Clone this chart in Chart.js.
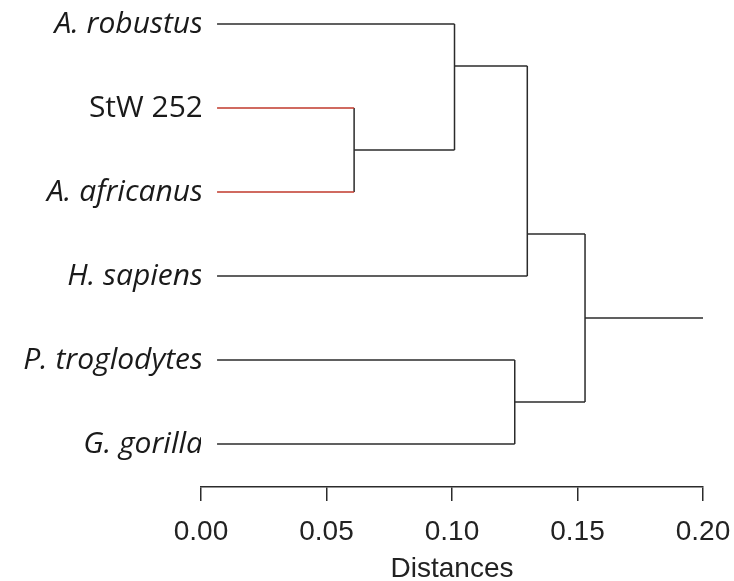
<!DOCTYPE html>
<html>
<head>
<meta charset="utf-8">
<script src="https://cdn.jsdelivr.net/npm/chart.js@4.4.1/dist/chart.umd.min.js"></script>
<style>
  html, body { margin: 0; padding: 0; background: #fff; }
  #wrap { width: 734px; height: 581px; }
</style>
</head>
<body>
<div id="wrap"><canvas id="tree"></canvas></div>
<script>
// leaves, top to bottom
const leaves = ['A. robustus', 'StW 252', 'A. africanus', 'H. sapiens', 'P. troglodytes', 'G. gorilla'];
const leafItalic = [true, false, true, true, true, true];
const leafColors = ['#2b2b2b', '#c0392b', '#c0392b', '#2b2b2b', '#2b2b2b', '#2b2b2b'];
const leafStart = 0.0064;

// merges: negative = leaf (1-based), positive = earlier merge (1-based)
const mergeA = [-2, -1, 2, -5, 3];
const mergeB = [-3, 1, -4, -6, 4];
const mergeHeight = [0.061, 0.101, 0.130, 0.125, 0.153];
const mergeY = [1.5, 0.5, 2.5, 4.5, 3.5];
const rootEnd = 0.20;

const xTicks = [0, 0.05, 0.10, 0.15, 0.20];

const lineColor = '#2b2b2b';

function node(ref) {
    if (ref < 0) {
        const i = -ref - 1;
        return { h: leafStart, y: i, color: leafColors[i] };
    }
    return { h: mergeHeight[ref - 1], y: mergeY[ref - 1], color: lineColor };
}

function seg(points, color) {
    return {
        data: points,
        showLine: true,
        borderColor: color,
        borderWidth: 1.5,
        pointRadius: 0,
        fill: false
    };
}

// build the segments of the tree
const datasets = [];
for (let k = 0; k < mergeHeight.length; k++) {
    const h = mergeHeight[k];
    const a = node(mergeA[k]);
    const b = node(mergeB[k]);
    datasets.push(seg([{ x: a.h, y: a.y }, { x: h, y: a.y }], a.color));
    datasets.push(seg([{ x: b.h, y: b.y }, { x: h, y: b.y }], b.color));
    datasets.push(seg([{ x: h, y: a.y }, { x: h, y: b.y }], lineColor));
}
const last = mergeHeight.length - 1;
datasets.push(seg([{ x: mergeHeight[last], y: mergeY[last] }, { x: rootEnd, y: mergeY[last] }], lineColor));

const ctx = document.getElementById('tree').getContext('2d');
new Chart(ctx, {
    type: 'scatter',
    data: { datasets: datasets },
    options: {
        responsive: true,
        maintainAspectRatio: false,
        animation: false,
        layout: { padding: { top: 3, right: 31, left: 0, bottom: 0 } },
        plugins: {
            legend: { display: false },
            tooltip: { enabled: false }
        },
        scales: {
            x: {
                type: 'linear',
                min: 0,
                max: 0.20,
                afterBuildTicks: (scale) => { scale.ticks = xTicks.map(v => ({ value: v })); },
                afterFit: (scale) => {
                    scale.height = 94;
                    scale.paddingLeft = 0;
                    scale.paddingRight = 0;
                },
                border: { display: true, color: lineColor, width: 1.5 },
                grid: {
                    drawOnChartArea: false,
                    drawTicks: true,
                    tickLength: 14,
                    color: lineColor,
                    lineWidth: 1.5
                },
                ticks: {
                    padding: 14,
                    maxRotation: 0,
                    color: '#222',
                    font: { family: '"Liberation Sans", Arial, sans-serif', size: 28 },
                    callback: (v) => v.toFixed(2)
                },
                title: {
                    display: true,
                    text: 'Distances',
                    color: '#222',
                    padding: { top: 7, bottom: -5 },
                    font: { family: '"Liberation Sans", Arial, sans-serif', size: 28 }
                }
            },
            y: {
                type: 'linear',
                reverse: true,
                min: -0.25,
                max: 5.512,
                afterBuildTicks: (scale) => { scale.ticks = leaves.map((_, i) => ({ value: i })); },
                afterFit: (scale) => {
                    scale.width = 201;
                    scale.paddingTop = 0;
                    scale.paddingBottom = 0;
                },
                border: { display: false },
                grid: { display: false, drawTicks: false },
                ticks: {
                    padding: -2,
                    color: '#1a1a1a',
                    font: (c) => ({
                        family: '"Open Sans", "Noto Sans", sans-serif',
                        size: 30,
                        style: leafItalic[c.index] ? 'italic' : 'normal'
                    }),
                    callback: (v, i) => leaves[i]
                }
            }
        }
    }
});
</script>
</body>
</html>
